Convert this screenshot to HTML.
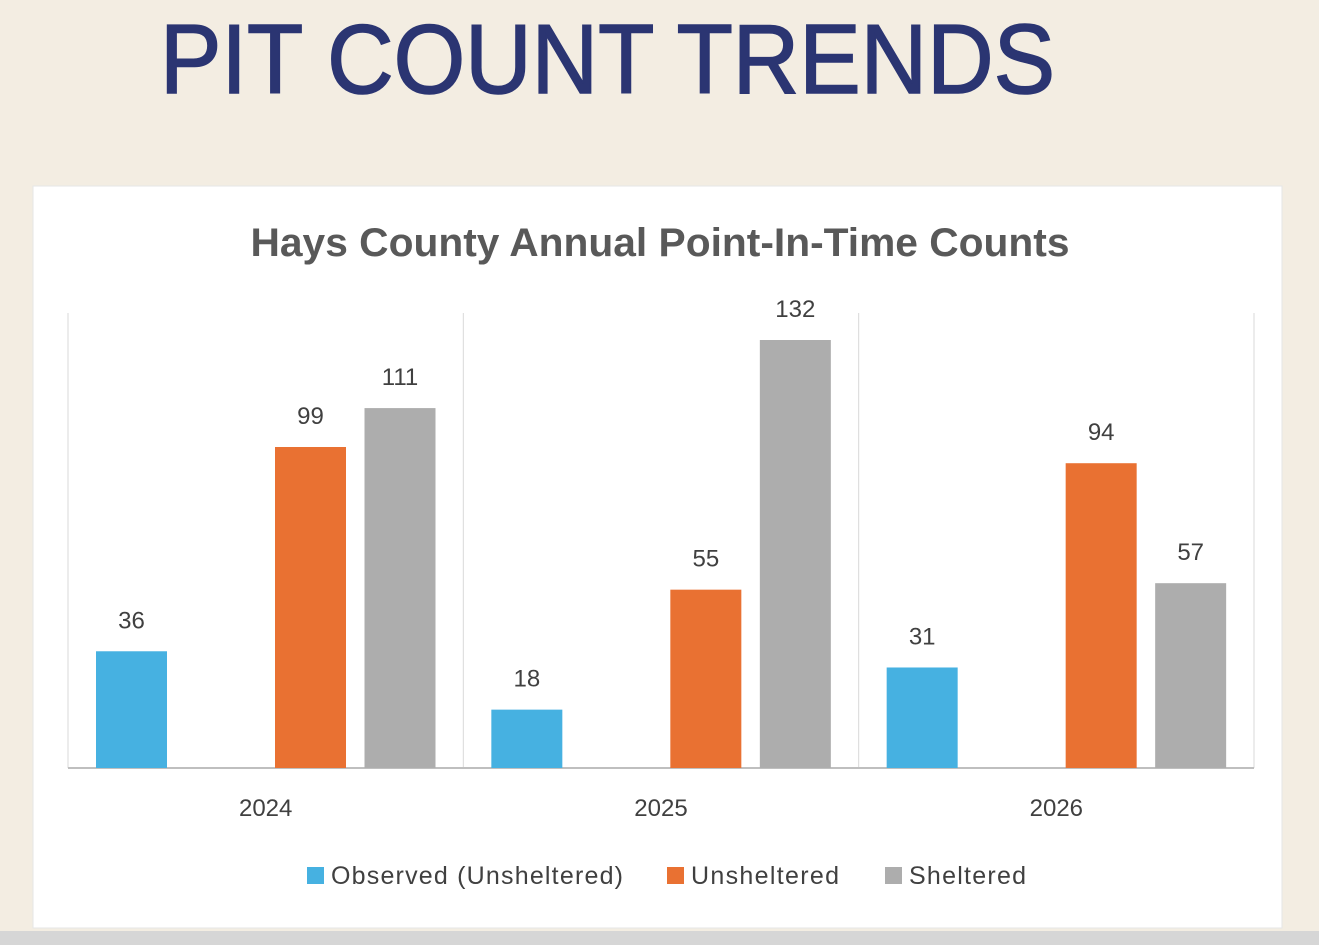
<!DOCTYPE html>
<html><head><meta charset="utf-8"><style>
html,body{margin:0;padding:0;background:#f3ede2;}
svg{display:block;}
text{font-family:"Liberation Sans",sans-serif;}
</style></head><body>
<svg id="chart" width="1319" height="945" viewBox="0 0 1319 945" xmlns="http://www.w3.org/2000/svg">
<rect x="0" y="0" width="1319" height="945" fill="#f3ede2"/>
<text x="160" y="93" font-size="98" fill="#2b3572" stroke="#2b3572" stroke-width="1.6" textLength="895" lengthAdjust="spacingAndGlyphs">PIT COUNT TRENDS</text>
<rect x="33" y="186" width="1249" height="742" fill="#ffffff" stroke="#e6e6e6"/>
<rect x="0" y="931" width="1319" height="14" fill="#d6d6d6"/>
<text x="660" y="256" font-size="40" font-weight="bold" fill="#595959" text-anchor="middle" textLength="819" lengthAdjust="spacingAndGlyphs">Hays County Annual Point-In-Time Counts</text>
<g id="grid"></g>
<g id="bars"></g>
<g id="legend"></g>
</svg>
<script>
const categories = ["2024", "2025", "2026"];
const observed = [36, 18, 31];
const unsheltered = [99, 55, 94];
const sheltered = [111, 132, 57];
const seriesNames = ["Observed (Unsheltered)", "Unsheltered", "Sheltered"];

const NS = "http://www.w3.org/2000/svg";
const plotL = 68, plotR = 1254, plotTop = 313, base = 768;
const yMax = 132, yTopPx = 340;
const groupW = (plotR - plotL) / categories.length;
function y(v){ return base - v * (base - yTopPx) / yMax; }
function groupX(i){ return plotL + i * groupW; }
function mk(tag, attrs, parent){ const e = document.createElementNS(NS, tag); for (const k in attrs) e.setAttribute(k, attrs[k]); parent.appendChild(e); return e; }

const grid = document.getElementById("grid");
for (let i = 0; i <= categories.length; i++) {
  const l = mk("line", {x1: groupX(i), x2: groupX(i), y1: plotTop, y2: base, stroke: "#d9d9d9", "stroke-width": 1}, grid);
  
  
}
const axis = mk("line", {x1: plotL, x2: plotR, y1: base, y2: base, stroke: "#bfbfbf", "stroke-width": 2}, grid);



const bars = document.getElementById("bars");
const series = [observed, unsheltered, sheltered];
const slotIdx = [0, 2, 3];
const colors = ["#46b1e1", "#e97132", "#adadad"];
const slot = 89.5, barW = 71, offset = 28;
categories.forEach((c, i) => {
  const t = mk("text", {x: groupX(i) + groupW / 2, y: 816, "font-size": 24, fill: "#404040", "text-anchor": "middle"}, bars);
  t.textContent = c;
  
  
  series.forEach((s, k) => {
    const x = groupX(i) + offset + slotIdx[k] * slot;
    const r = mk("rect", {x: x, y: y(s[i]), width: barW, height: base - y(s[i]), fill: colors[k]}, bars);
    
    
    const lb = mk("text", {x: x + barW / 2, y: y(s[i]) - 23, "font-size": 24, fill: "#404040", "text-anchor": "middle"}, bars);
    lb.textContent = s[i];
    
    
  });
});

const legend = document.getElementById("legend");
const legX = [307, 667, 885];
const legW = [292, 148, 117];
seriesNames.forEach((n, k) => {
  const g = mk("g", {}, legend);
  
  
  mk("rect", {x: legX[k], y: 867, width: 17, height: 17, fill: colors[k]}, g);
  const t = mk("text", {x: legX[k] + 24, y: 884, "font-size": 25, fill: "#404040", textLength: legW[k], lengthAdjust: "spacing"}, g);
  t.textContent = n;
});
</script>
</body></html>
